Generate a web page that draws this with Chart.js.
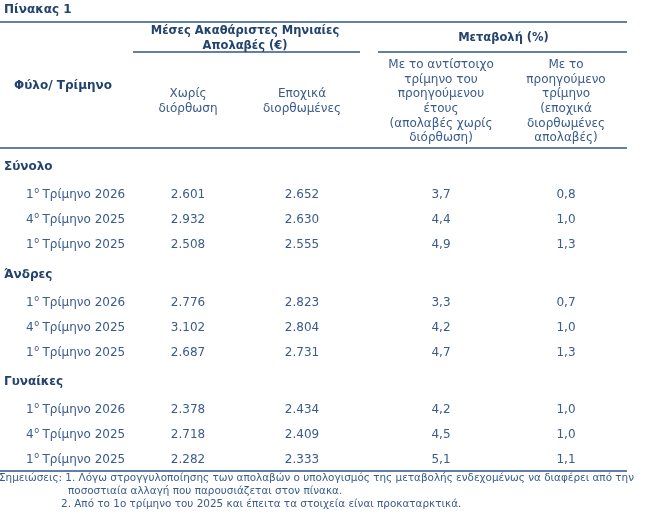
<!DOCTYPE html>
<html lang="el">
<head>
<meta charset="utf-8">
<title>Πίνακας 1</title>
<script src="https://cdn.jsdelivr.net/npm/chart.js@4.4.1/dist/chart.umd.min.js"></script>
<style>
  html, body { margin: 0; padding: 0; background: #fff; }
  #wrap { width: 648px; height: 514px; overflow: hidden; }
</style>
</head>
<body>
<div id="wrap"><canvas id="chart" width="648" height="514"></canvas></div>
<script>
// table values, per group (Σύνολο, Άνδρες, Γυναίκες) and quarter
const groups = ['Σύνολο', 'Άνδρες', 'Γυναίκες']
const quarters = ['1ο Τρίμηνο 2026', '4ο Τρίμηνο 2025', '1ο Τρίμηνο 2025']
const earningsRaw = [[2601, 2932, 2508], [2776, 3102, 2687], [2378, 2718, 2282]]
const earningsSa = [[2652, 2630, 2555], [2823, 2804, 2731], [2434, 2409, 2333]]
const changeYearly = [[3.7, 4.4, 4.9], [3.3, 4.2, 4.7], [4.2, 4.5, 5.1]]
const changeQuarterly = [[0.8, 1.0, 1.3], [0.7, 1.0, 1.3], [1.0, 1.0, 1.1]]

// header texts
const title = 'Πίνακας 1'
const rowHeader = 'Φύλο/ Τρίμηνο'
const groupHeaders = [['Μέσες Ακαθάριστες Μηνιαίες', 'Απολαβές (€)'], ['Μεταβολή (%)']]
const columnHeaders = [
  ['Χωρίς', 'διόρθωση'],
  ['Εποχικά', 'διορθωμένες'],
  ['Με το αντίστοιχο', 'τρίμηνο του', 'προηγούμενου', 'έτους', '(απολαβές χωρίς', 'διόρθωση)'],
  ['Με το', 'προηγούμενο', 'τρίμηνο', '(εποχικά', 'διορθωμένες', 'απολαβές)']
]
const notes = [
  'Σημειώσεις: 1. Λόγω στρογγυλοποίησης των απολαβών ο υπολογισμός της μεταβολής ενδεχομένως να διαφέρει από την',
  'ποσοστιαία αλλαγή που παρουσιάζεται στον πίνακα.',
  '2. Από το 1ο τρίμηνο του 2025 και έπειτα τα στοιχεία είναι προκαταρκτικά.'
]

// layout (pixels)
const FONT = '"DejaVu Sans", Verdana, sans-serif'
const HEAD = '#23436f'
const TEXT = '#3a5b8b'
const RULE = '#2f558a'
const colX = [188, 302, 441, 566]
const ruleEnd = 627
const firstHeadingY = 167
const headingToRow = 28
const rowStep = 25
const rowToHeading = 29.5

// y position of every group heading and row
function rowPositions() {
  let y = firstHeadingY
  return groups.map(() => {
    let heading = y
    let rows = quarters.map((q, i) => heading + headingToRow + i * rowStep)
    y = rows[rows.length - 1] + rowToHeading
    return {heading, rows}
  })
}

function fmtThousands(v) {
  return String(v).replace(/\B(?=(\d{3})+(?!\d))/g, '.')
}

function fmtDecimal(v) {
  return v.toFixed(1).replace('.', ',')
}

const positions = rowPositions()

// one dataset per numeric column, points placed by the x/y scales
function columnDataset(values, fmt, col) {
  let points = []
  let texts = []
  values.forEach((groupVals, g) => {
    groupVals.forEach((v, r) => {
      points.push({x: colX[col], y: positions[g].rows[r]})
      texts.push(fmt(v))
    })
  })
  return {data: points, texts, pointRadius: 0}
}

const datasets = [
  columnDataset(earningsRaw, fmtThousands, 0),
  columnDataset(earningsSa, fmtThousands, 1),
  columnDataset(changeYearly, fmtDecimal, 2),
  columnDataset(changeQuarterly, fmtDecimal, 3)
]

function rule(ctx, x1, x2, y) {
  ctx.beginPath()
  ctx.moveTo(x1, y)
  ctx.lineTo(x2, y)
  ctx.stroke()
}

// quarter label with raised ordinal "ο"
function quarterLabel(ctx, label, x, y) {
  let num = label.slice(0, 1)
  let rest = label.slice(3)
  ctx.textAlign = 'left'
  ctx.font = '12px ' + FONT
  ctx.fillText(num, x, y)
  let w = ctx.measureText(num).width + 0.5
  ctx.font = '8px ' + FONT
  ctx.fillText('ο', x + w, y - 4)
  w += ctx.measureText('ο').width + 3.5
  ctx.font = '12px ' + FONT
  ctx.fillText(rest, x + w, y)
}

const tablePlugin = {
  id: 'table',
  afterDatasetsDraw(chart) {
    let ctx = chart.ctx
    let sx = chart.scales.x
    let sy = chart.scales.y
    ctx.save()
    ctx.textBaseline = 'middle'

    // rules
    ctx.strokeStyle = RULE
    ctx.lineWidth = 1.5
    rule(ctx, 0, ruleEnd, 22)
    rule(ctx, 133, 360, 52)
    rule(ctx, 378, ruleEnd, 52)
    rule(ctx, 0, ruleEnd, 148)
    rule(ctx, 0, ruleEnd, 471)

    // title and bold headers
    ctx.fillStyle = HEAD
    ctx.font = 'bold 12px ' + FONT
    ctx.textAlign = 'left'
    ctx.fillText(title, 4, 10)
    ctx.fillText(rowHeader, 14, 86)
    ctx.textAlign = 'center'
    let g1 = (sx.getPixelForValue(colX[0]) + sx.getPixelForValue(colX[1])) / 2
    let g2 = (sx.getPixelForValue(colX[2]) + sx.getPixelForValue(colX[3])) / 2
    ctx.font = 'bold 11.5px ' + FONT
    ctx.fillText(groupHeaders[0][0], g1, 31)
    ctx.fillText(groupHeaders[0][1], g1, 46)
    ctx.fillText(groupHeaders[1][0], g2, 38)

    // column headers
    ctx.fillStyle = TEXT
    ctx.font = '12px ' + FONT
    columnHeaders.forEach((lines, c) => {
      let cx = sx.getPixelForValue(colX[c])
      let top = c < 2 ? 94 : 65
      lines.forEach((t, i) => ctx.fillText(t, cx, top + i * 14.6))
    })

    // group headings and quarter labels
    positions.forEach((p, g) => {
      ctx.fillStyle = HEAD
      ctx.font = 'bold 12px ' + FONT
      ctx.textAlign = 'left'
      ctx.fillText(groups[g], 4, sy.getPixelForValue(p.heading))
      ctx.fillStyle = TEXT
      p.rows.forEach((y, r) => quarterLabel(ctx, quarters[r], 26, sy.getPixelForValue(y)))
    })

    // cell values at the dataset points
    ctx.fillStyle = TEXT
    ctx.font = '12px ' + FONT
    ctx.textAlign = 'center'
    chart.data.datasets.forEach((ds, i) => {
      chart.getDatasetMeta(i).data.forEach((pt, j) => {
        ctx.fillText(ds.texts[j], pt.x, pt.y)
      })
    })

    // notes, squeezed to the original line width
    ctx.fillStyle = TEXT
    ctx.font = '10.5px ' + FONT
    ctx.textAlign = 'left'
    let k = Math.min(1, 635 / ctx.measureText(notes[0]).width)
    let noteX = [-1, 68, 61]
    let noteY = [478, 491, 504]
    notes.forEach((t, i) => {
      ctx.save()
      ctx.translate(noteX[i], noteY[i])
      ctx.scale(k, 1)
      ctx.fillText(t, 0, 0)
      ctx.restore()
    })
    ctx.restore()
  }
}

new Chart(document.getElementById('chart'), {
  type: 'scatter',
  data: {datasets},
  options: {
    responsive: false,
    animation: false,
    events: [],
    layout: {padding: 0},
    scales: {
      x: {type: 'linear', min: 0, max: 648, display: false},
      y: {type: 'linear', min: 0, max: 514, reverse: true, display: false}
    },
    plugins: {legend: {display: false}, tooltip: {enabled: false}}
  },
  plugins: [tablePlugin]
})
</script>
</body>
</html>
